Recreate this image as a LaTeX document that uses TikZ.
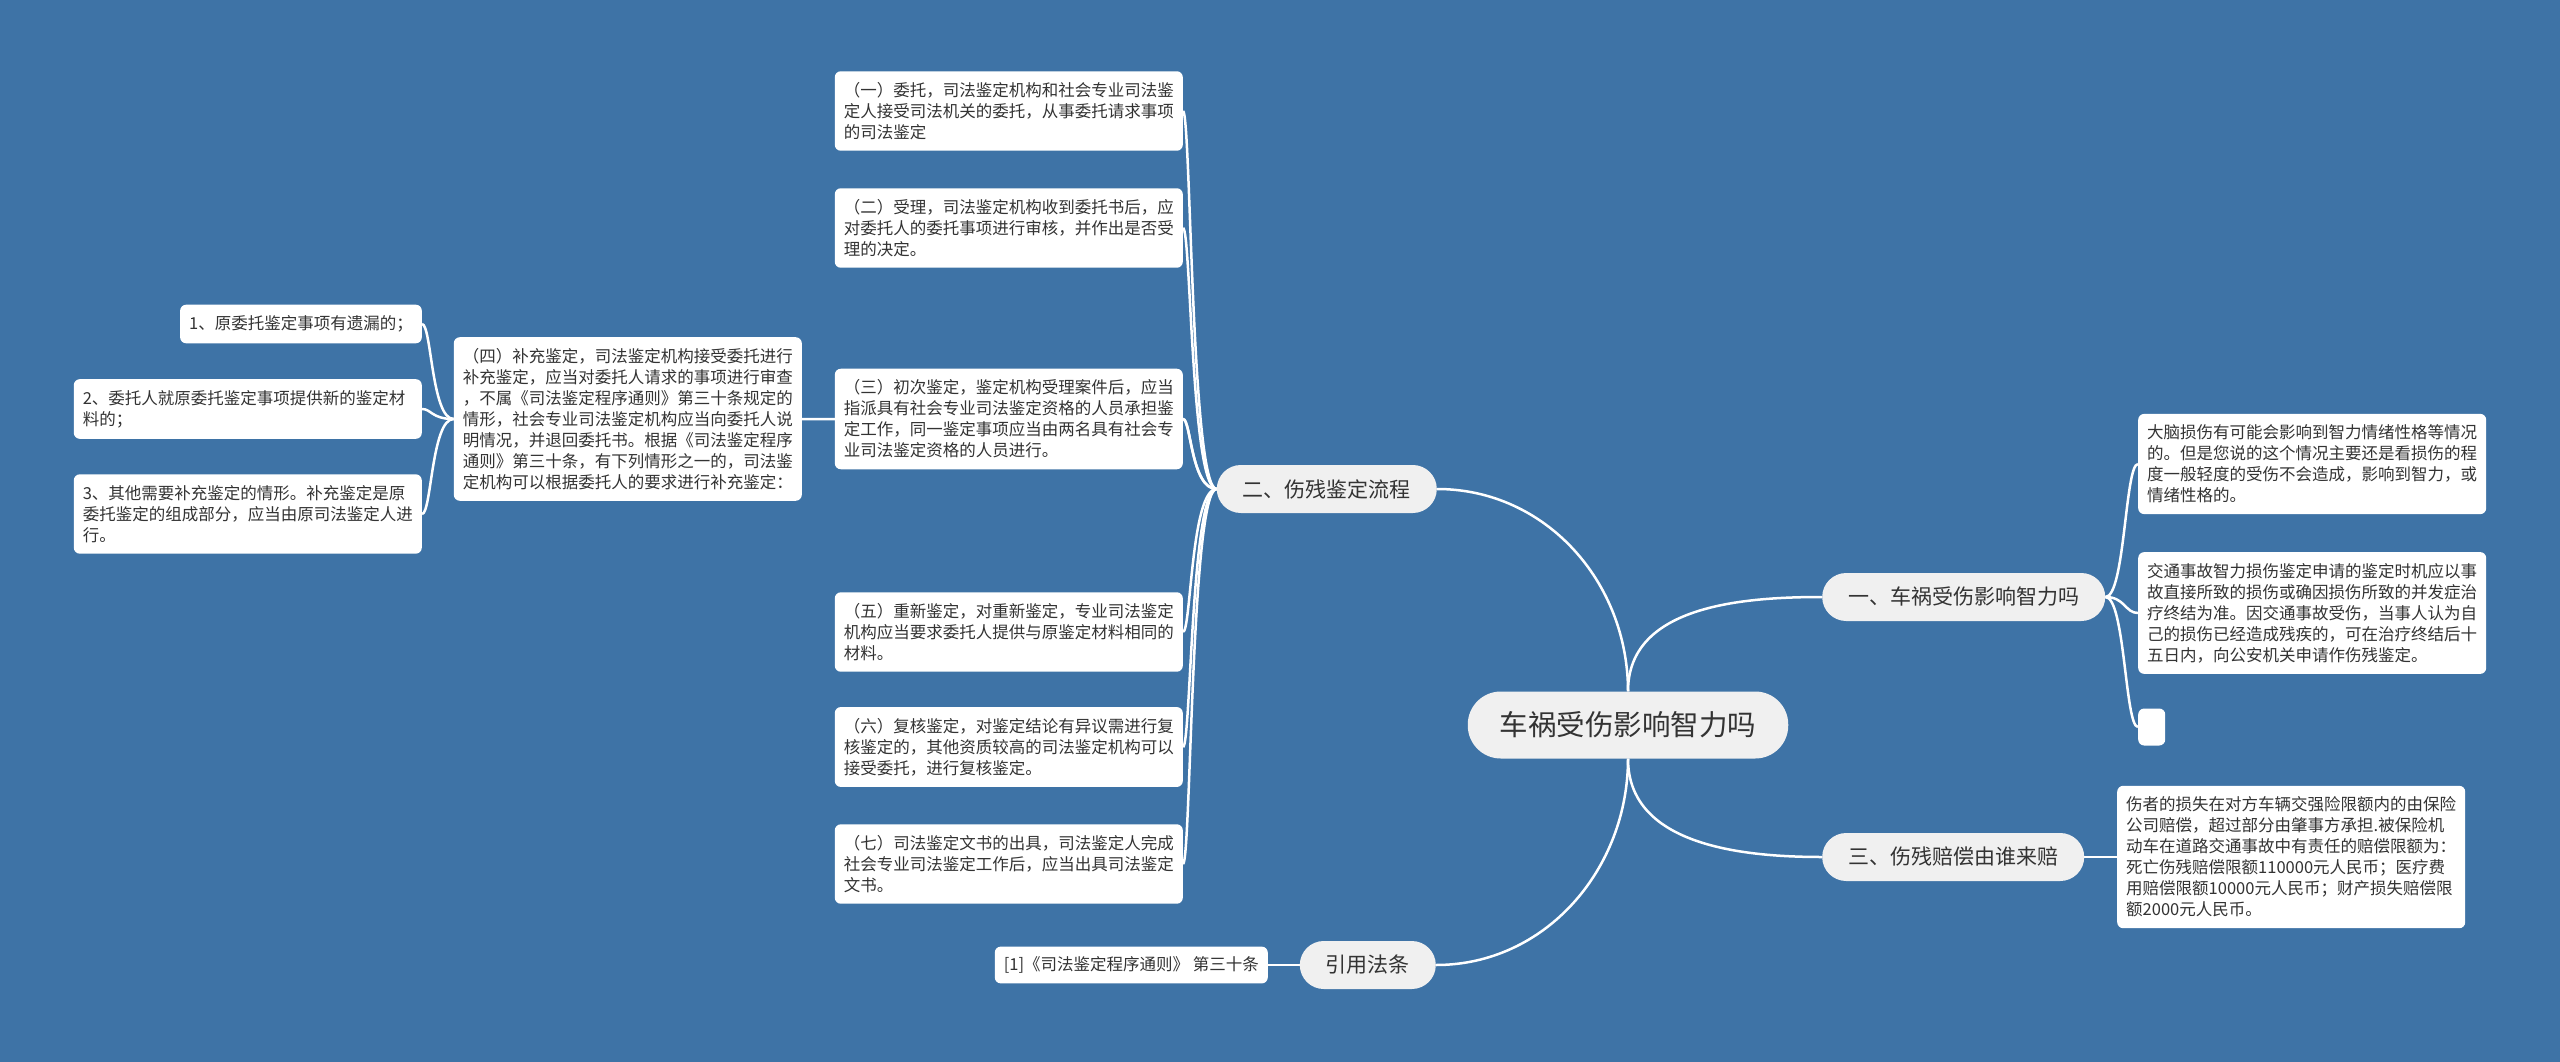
\documentclass[tikz,border=0pt]{standalone}
\usepackage{fontspec}
\setmainfont{Noto Sans CJK SC}
\usetikzlibrary{backgrounds}
\definecolor{cbg}{HTML}{3E73A6}
\definecolor{cpill}{HTML}{F0F0F0}
\definecolor{ctext}{HTML}{333333}
\tikzset{
  leafbox/.style={fill=white, rounded corners=6pt, align=left, inner xsep=9pt, inner ysep=11pt, text=ctext, font=\fontsize{16.5}{21}\selectfont},
  wideleaf/.style={leafbox, text width=330pt},
  subtopic/.style={fill=cpill, text=ctext, rounded corners=24pt, minimum height=48pt, inner xsep=26pt, font=\fontsize{21}{25}\selectfont},
  maintopic/.style={fill=cpill, text=ctext, rounded corners=33pt, minimum height=67pt, inner xsep=32pt, font=\fontsize{28.5}{32}\selectfont},
  link/.style={draw=white, line width=2.5pt},
}

\begin{document}
\begin{tikzpicture}[x=1pt, y=-1pt]
  \node[maintopic] (main) at (1628,725) {车祸受伤影响智力吗};
  \node[subtopic, anchor=east] (b2) at (1437,489) {二、伤残鉴定流程};
  \node[subtopic, anchor=east] (cite) at (1436,965) {引用法条};
  \node[subtopic, anchor=west] (b1) at (1822,597) {一、车祸受伤影响智力吗};
  \node[subtopic, anchor=west] (b3) at (1822,857) {三、伤残赔偿由谁来赔};
  % procedure steps
  \node[wideleaf, anchor=east] (n1) at (1183,111) {（一）委托，司法鉴定机构和社会专业司法鉴\\定人接受司法机关的委托，从事委托请求事项\\的司法鉴定};
  \node[wideleaf, anchor=east] (n2) at (1183,228) {（二）受理，司法鉴定机构收到委托书后，应\\对委托人的委托事项进行审核，并作出是否受\\理的决定。};
  \node[wideleaf, anchor=east] (n3) at (1183,419) {（三）初次鉴定，鉴定机构受理案件后，应当\\指派具有社会专业司法鉴定资格的人员承担鉴\\定工作，同一鉴定事项应当由两名具有社会专\\业司法鉴定资格的人员进行。};
  \node[wideleaf, anchor=east] (n4) at (802,419) {（四）补充鉴定，司法鉴定机构接受委托进行\\补充鉴定，应当对委托人请求的事项进行审查\\，不属《司法鉴定程序通则》第三十条规定的\\情形，社会专业司法鉴定机构应当向委托人说\\明情况，并退回委托书。根据《司法鉴定程序\\通则》第三十条，有下列情形之一的，司法鉴\\定机构可以根据委托人的要求进行补充鉴定：};
  \node[wideleaf, anchor=east] (n5) at (1183,632) {（五）重新鉴定，对重新鉴定，专业司法鉴定\\机构应当要求委托人提供与原鉴定材料相同的\\材料。};
  \node[wideleaf, anchor=east] (n6) at (1183,747) {（六）复核鉴定，对鉴定结论有异议需进行复\\核鉴定的，其他资质较高的司法鉴定机构可以\\接受委托，进行复核鉴定。};
  \node[wideleaf, anchor=east] (n7) at (1183,864) {（七）司法鉴定文书的出具，司法鉴定人完成\\社会专业司法鉴定工作后，应当出具司法鉴定\\文书。};
  % cases of (four)
  \node[leafbox, anchor=east] (k1) at (422,324) {1、原委托鉴定事项有遗漏的；};
  \node[wideleaf, anchor=east] (k2) at (422,409) {2、委托人就原委托鉴定事项提供新的鉴定材\\料的；};
  \node[wideleaf, anchor=east] (k3) at (422,514) {3、其他需要补充鉴定的情形。补充鉴定是原\\委托鉴定的组成部分，应当由原司法鉴定人进\\行。};
  % right side
  \node[wideleaf, anchor=west] (ra) at (2138,464) {大脑损伤有可能会影响到智力情绪性格等情况\\的。但是您说的这个情况主要还是看损伤的程\\度一般轻度的受伤不会造成，影响到智力，或\\情绪性格的。};
  \node[wideleaf, anchor=west] (rb) at (2138,613) {交通事故智力损伤鉴定申请的鉴定时机应以事\\故直接所致的损伤或确因损伤所致的并发症治\\疗终结为准。因交通事故受伤，当事人认为自\\己的损伤已经造成残疾的，可在治疗终结后十\\五日内，向公安机关申请作伤残鉴定。};
  \node[leafbox, anchor=west, inner sep=0pt, minimum width=27pt, minimum height=37pt] (rc) at (2138,727) {};
  \node[wideleaf, anchor=west] (rd) at (2117,857) {伤者的损失在对方车辆交强险限额内的由保险\\公司赔偿，超过部分由肇事方承担.被保险机\\动车在道路交通事故中有责任的赔偿限额为：\\死亡伤残赔偿限额110000元人民币；医疗费\\用赔偿限额10000元人民币；财产损失赔偿限\\额2000元人民币。};
  \node[leafbox, anchor=east, inner ysep=10pt] (ref) at (1268,965) {[1]《司法鉴定程序通则》 第三十条};
  \begin{scope}[on background layer]
    \fill[cbg] (0,0) rectangle (2560,1062);
    \coordinate (t2) at (1191,0);
    \coordinate (t4) at (431.5,0);
    \coordinate (t1) at (2125,0);
    \draw[link] (main.north) to[out=90, in=0] (b2.east);
    \draw[link] (main.north) to[out=90, in=180] (b1.west);
    \draw[link] (main.south) to[out=-90, in=180] (b3.west);
    \draw[link] (main.south) to[out=-90, in=0] (cite.east);
    \foreach \n in {n1,n2,n3,n5,n6,n7}
      \draw[link] (b2.west) .. controls (t2 |- b2.west) and (t2 |- \n.east) .. (\n.east);
    \draw[link] (b2.west) .. controls (t2 |- b2.west) and (t2 |- n4.east) .. (n1.east |- n4.east) -- (n4.east);
    \foreach \k in {k1,k2,k3}
      \draw[link] (n4.west) .. controls (t4 |- n4.west) and (t4 |- \k.east) .. (\k.east);
    \foreach \r in {ra,rb,rc}
      \draw[link] (b1.east) .. controls (t1 |- b1.east) and (t1 |- \r.west) .. (\r.west);
    \draw[link] (b3.east) -- (rd.west);
    \draw[link] (cite.west) -- (ref.east);
  \end{scope}
\end{tikzpicture}
\end{document}
